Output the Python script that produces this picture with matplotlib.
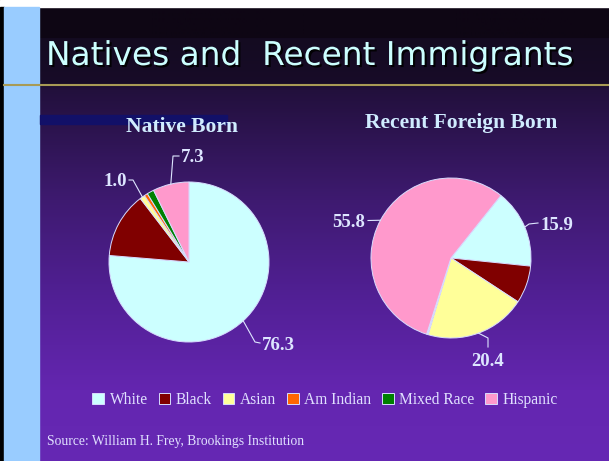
import numpy as np
import matplotlib.pyplot as plt
import matplotlib.patheffects as pe
from matplotlib.patches import Rectangle

W, H = 609, 461

# data
categories = ['White', 'Black', 'Asian', 'Am Indian', 'Mixed Race', 'Hispanic']
native_born = [76.3, 13.3, 1.0, 0.7, 1.4, 7.3]
recent_foreign = [15.9, 7.6, 20.4, 0.2, 0.1, 55.8]
colors = ['#ccffff', '#800000', '#ffff99', '#ff6600', '#008000', '#ff99cc']

# which slices get a value label: (slice index, label)
native_shown = [(0, '76.3'), (2, '1.0'), (5, '7.3')]
recent_shown = [(5, '55.8'), (0, '15.9'), (2, '20.4')]

txt_col = '#dde6ff'
serif = 'Liberation Serif'

fig = plt.figure(figsize=(W / 100, H / 100), dpi=100)
ax = fig.add_axes([0, 0, 1, 1])

# slide background gradient (dark at top, purple at bottom)
stop_y = [0, 38, 39, 84, 90, 200, 300, 390, 461]
stop_c = [(14, 6, 20), (14, 6, 20), (20, 11, 33), (24, 12, 40), (34, 16, 60),
          (62, 26, 112), (82, 32, 150), (100, 38, 176), (102, 40, 180)]
rows = np.arange(H)
grad = np.stack([np.interp(rows, stop_y, [c[i] for c in stop_c]) for i in range(3)], axis=-1) / 255
ax.imshow(np.repeat(grad[:, None, :], 2, axis=1), extent=(0, W, 0, H),
          aspect='auto', origin='upper', zorder=0)

# frame decorations
ax.add_patch(Rectangle((0, H - 7), W, 7, color='white', zorder=1))
ax.add_patch(Rectangle((0, 0), 4, H - 7, color='black', zorder=1))
ax.add_patch(Rectangle((4, 0), 35, H - 7, color='#99ccff', zorder=1))
ax.plot([4, W], [H - 85, H - 85], color='#a89a55', lw=1.5, zorder=2)
ax.add_patch(Rectangle((40, H - 124), 187, 9, color='#121068', zorder=1))

ax.text(46, H - 65, 'Natives and  Recent Immigrants', fontsize=23.6, color='#ccffff',
        family='DejaVu Sans', va='baseline', zorder=4,
        path_effects=[pe.withSimplePatchShadow(offset=(1.5, -1.5), shadow_rgbFace='black', alpha=0.9)])

wp = dict(edgecolor='#d8dcff', linewidth=0.7)
R = 80
c1 = (189, H - 262)
c2 = (451, H - 258)
w1, _ = ax.pie(native_born, colors=colors, startangle=90, counterclock=False,
               center=c1, radius=R, wedgeprops=wp)
w2, _ = ax.pie(recent_foreign, colors=colors, startangle=51.4, counterclock=False,
               center=c2, radius=R, wedgeprops=wp)

ax.text(182, H - 132, 'Native Born', fontsize=15.5, fontweight='bold', family=serif,
        color='#d0ecff', ha='center', va='baseline', zorder=4)
ax.text(461, H - 128, 'Recent Foreign Born', fontsize=15.5, fontweight='bold', family=serif,
        color='#d0ecff', ha='center', va='baseline', zorder=4)

# leader lines: start on wedge edge, then elbow points, then label
native_lead = [[(255, 342), (260, 343)], [(133, 180), (129, 180)], [(173, 156), (179, 156)]]
native_pos = [((262, 345), 'left'), ((127, 182), 'right'), ((181, 157), 'left')]
recent_lead = [[(368, 220.5)], [(529, 224), (538, 223)], [(488, 338), (488, 347)]]
recent_pos = [((365, 223), 'right'), ((540, 226), 'left'), ((488, 362), 'center')]


def put_labels(wedges, center, shown, leads, poss):
    for (i, lab), lead, (pos, ha) in zip(shown, leads, poss):
        w = wedges[i]
        mid = np.deg2rad((w.theta1 + w.theta2) / 2)
        xs = [center[0] + R * np.cos(mid)] + [p[0] for p in lead]
        ys = [center[1] + R * np.sin(mid)] + [H - p[1] for p in lead]
        ax.plot(xs, ys, color=txt_col, lw=0.8, zorder=3)
        ax.text(pos[0], H - pos[1], lab, fontsize=13.5, fontweight='bold', family=serif,
                color=txt_col, ha=ha, va='center', zorder=4)


put_labels(w1, c1, native_shown, native_lead, native_pos)
put_labels(w2, c2, recent_shown, recent_lead, recent_pos)

leg = ax.legend(w1, categories, loc='center', bbox_to_anchor=(325 / W, 1 - 400 / H),
                ncol=6, frameon=False, prop={'family': serif, 'size': 11.2},
                labelcolor='#e0e0ff', handlelength=0.75, handleheight=0.75,
                handletextpad=0.35, columnspacing=0.7, borderaxespad=0)

ax.text(47, H - 441, 'Source: William H. Frey, Brookings Institution', fontsize=9.8,
        family=serif, color='#e0e0ff', va='center', zorder=4)

ax.set_xlim(0, W)
ax.set_ylim(0, H)
ax.axis('off')

fig.savefig('out.png', dpi=100)
